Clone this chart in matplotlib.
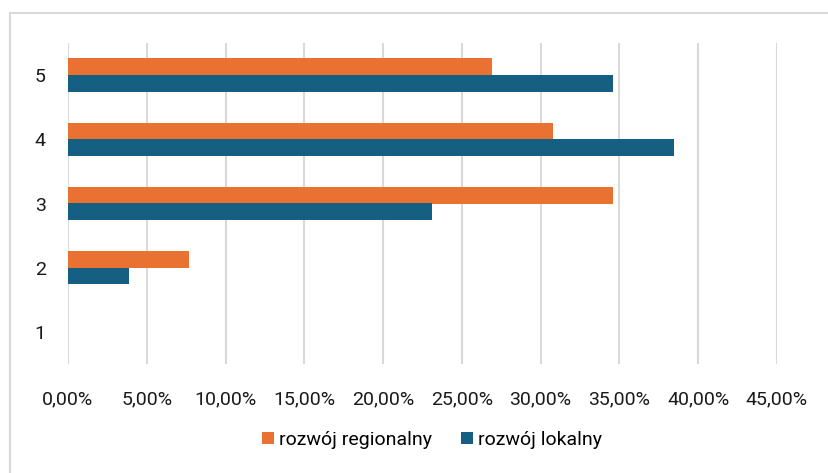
import matplotlib
matplotlib.use("Agg")
import matplotlib.pyplot as plt
from matplotlib.lines import Line2D
from matplotlib.ticker import FuncFormatter
import numpy as np

categories = ["1", "2", "3", "4", "5"]
regional = [0.0, 7.69, 34.62, 30.77, 26.92]
local = [0.0, 3.85, 23.08, 38.46, 34.62]
xticks = [0, 5, 10, 15, 20, 25, 30, 35, 40, 45]

c_reg = "#E97132"
c_loc = "#156082"

plt.rcParams['font.family'] = ['Roboto', 'DejaVu Sans']

fig = plt.figure(figsize=(8.29, 4.73), dpi=100)
ax = fig.add_axes([68/829, 1 - 364/473, (777-68)/829, (364-43)/473])

y = np.arange(len(categories))
h = 0.26
ax.barh(y + h/2, regional, height=h, color=c_reg, label="rozwój regionalny", zorder=3)
ax.barh(y - h/2, local, height=h, color=c_loc, label="rozwój lokalny", zorder=3)

ax.set_xlim(0, 45)
ax.set_ylim(-0.5, len(categories) - 0.5)
ax.set_xticks(xticks)
ax.xaxis.set_major_formatter(FuncFormatter(lambda v, p: f"{v:.2f}%".replace(".", ",")))
ax.set_yticks(y)
ax.set_yticklabels(categories)
ax.tick_params(axis='both', length=0, labelsize=14, colors="#1a1a1a")
ax.tick_params(axis='x', pad=19)
ax.tick_params(axis='y', pad=16)
ax.grid(axis='x', color="#d9d9d9", linewidth=1.5, zorder=0)
for s in ax.spines.values():
    s.set_visible(False)

fig.add_artist(Line2D([10/829, 10/829], [0, 1 - 13/473], transform=fig.transFigure, color="#d9d9d9", lw=1.5))
fig.add_artist(Line2D([10/829, 1], [1 - 13/473, 1 - 13/473], transform=fig.transFigure, color="#d9d9d9", lw=1.5))

fig.legend(loc="center", bbox_to_anchor=(432/829, 1 - 440/473), ncol=2, frameon=False,
           fontsize=14, handlelength=0.6, handleheight=0.6, handletextpad=0.25, columnspacing=1.5)

fig.savefig("out.png", dpi=100)
